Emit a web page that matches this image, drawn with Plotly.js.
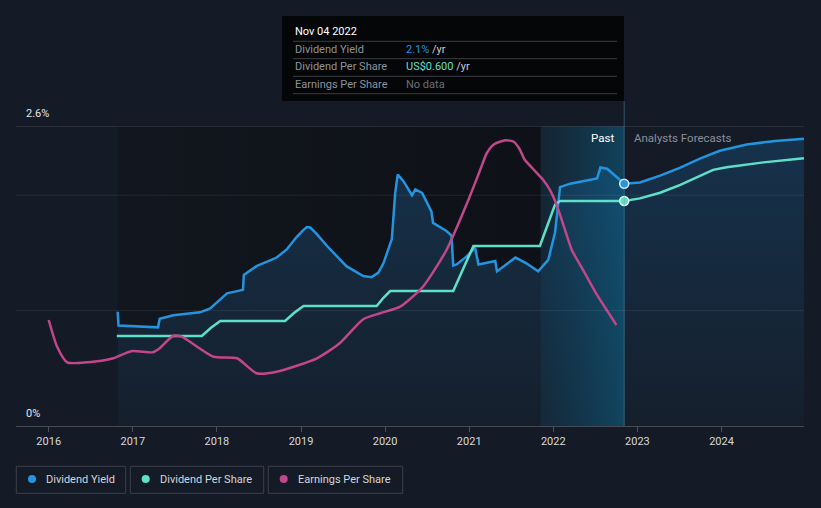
<!DOCTYPE html>
<html><head><meta charset="utf-8">
<script src="https://cdn.plot.ly/plotly-3.0.1.min.js"></script>
<style>html,body{margin:0;padding:0;background:#151b26;}#chart{width:821px;height:508px;}</style>
</head><body><div id="chart"></div>
<script>
// ---- data ----
const yearTicks = [2016, 2017, 2018, 2019, 2020, 2021, 2022, 2023, 2024];
const yearLabels = ["2016","2017","2018","2019","2020","2021","2022","2023","2024"];

// Dividend Yield (%), incl. analyst forecast after Nov 2022
const yieldX = [2016.82,2016.83,2017.30,2017.32,2017.48,2017.80,2017.92,2018.12,2018.31,2018.32,2018.47,2018.71,2018.83,2018.95,2019.03,2019.07,2019.11,2019.18,2019.31,2019.54,2019.74,2019.84,2019.92,2019.98,2020.08,2020.12,2020.15,2020.22,2020.32,2020.36,2020.44,2020.55,2020.57,2020.73,2020.79,2020.81,2020.85,2020.97,2021.07,2021.11,2021.31,2021.33,2021.55,2021.68,2021.82,2021.94,2022.02,2022.08,2022.20,2022.52,2022.56,2022.64,2022.75,2022.843,2023.03,2023.27,2023.51,2023.75,2023.98,2024.30,2024.64,2024.98];
const yieldY = [0.99,0.87,0.855,0.93,0.96,0.985,1.02,1.15,1.18,1.31,1.385,1.46,1.53,1.64,1.70,1.725,1.72,1.67,1.56,1.385,1.30,1.29,1.33,1.41,1.62,2.02,2.18,2.12,2.00,2.05,2.02,1.86,1.76,1.69,1.65,1.39,1.40,1.47,1.545,1.40,1.43,1.34,1.46,1.41,1.34,1.44,1.675,2.07,2.10,2.145,2.24,2.23,2.16,2.10,2.11,2.17,2.24,2.32,2.385,2.44,2.47,2.49];

// Dividend Per Share (US$)
const dpsX = [2016.81,2017.82,2017.93,2018.04,2018.81,2018.92,2019.03,2019.90,2019.98,2020.06,2020.81,2020.93,2021.05,2021.84,2021.94,2022.02,2022.08,2022.843,2023.03,2023.27,2023.51,2023.90,2024.06,2024.50,2024.98];
const dpsY = [0.24,0.24,0.262,0.28,0.28,0.302,0.32,0.32,0.342,0.36,0.36,0.42,0.48,0.48,0.54,0.59,0.60,0.60,0.607,0.622,0.643,0.683,0.69,0.703,0.714];

// Earnings Per Share (US$)
const epsX = [2016.00,2016.10,2016.22,2016.61,2016.77,2016.99,2017.24,2017.32,2017.48,2017.58,2017.96,2018.24,2018.47,2018.71,2019.19,2019.46,2019.74,2019.94,2020.18,2020.45,2020.73,2020.99,2021.13,2021.21,2021.30,2021.43,2021.53,2021.60,2021.66,2021.76,2021.88,2021.96,2022.04,2022.14,2022.22,2022.34,2022.52,2022.75];
const epsY = [1.413,1.057,0.849,0.867,0.903,1.0,0.983,1.036,1.204,1.191,0.924,0.903,0.703,0.724,0.903,1.103,1.423,1.503,1.591,1.857,2.347,3.013,3.413,3.64,3.76,3.81,3.79,3.69,3.55,3.427,3.28,3.147,2.947,2.613,2.347,2.107,1.747,1.347];

// highlighted point (Nov 04 2022)
const hoverX = [2022.843];
const hoverYield = [2.1];
const hoverDps = [0.6];

const dataStart = 2016.82, pastStart = 2021.85, today = 2022.843;

// ---- layout helpers (pixel -> paper) ----
const L=16, R=804, T=126, B=426;
const px = v => (v-L)/(R-L);
const py = v => (B-v)/(B-T);

const BLUE='#2394df', TEAL='#5ee0c8', PINK='#c2468a';

const traces = [
  {x:[dataStart,pastStart,pastStart,dataStart,dataStart], y:[0,0,2.6,2.6,0], type:'scatter', mode:'lines',
   fill:'toself', line:{width:0}, hoverinfo:'skip', showlegend:false,
   fillcolor:'#10141b',
   fillgradient:{type:'horizontal', colorscale:[[0,'#12161e'],[1,'#0e1117']]}},
  {x:yieldX, y:yieldY, type:'scatter', mode:'lines', fill:'tozeroy', line:{width:0}, hoverinfo:'skip', showlegend:false,
   fillcolor:'#152a40',
   fillgradient:{type:'vertical', colorscale:[[0,'#151f2c'],[1,'#16324c']]}},
  {x:[pastStart,today,today,pastStart,pastStart], y:[0,0,2.6,2.6,0], type:'scatter', mode:'lines',
   fill:'toself', line:{width:0}, hoverinfo:'skip', showlegend:false,
   fillcolor:'rgba(20,130,170,0.2)',
   fillgradient:{type:'horizontal', colorscale:[[0,'rgba(15,110,150,0.12)'],[1,'rgba(10,130,180,0.38)']]}},
  {x:yieldX, y:yieldY, type:'scatter', mode:'lines', line:{color:BLUE, width:2.5}, name:'Dividend Yield', showlegend:false},
  {x:dpsX, y:dpsY, yaxis:'y2', type:'scatter', mode:'lines', line:{color:TEAL, width:2.5}, name:'Dividend Per Share', showlegend:false},
  {x:epsX, y:epsY, yaxis:'y3', type:'scatter', mode:'lines', line:{color:PINK, width:2.5, shape:'spline', smoothing:0.6}, name:'Earnings Per Share', showlegend:false},
  {x:hoverX, y:hoverYield, type:'scatter', mode:'markers', marker:{size:9, color:BLUE, line:{color:'#d8ecf8', width:1.5}}, showlegend:false, hoverinfo:'skip'},
  {x:hoverX, y:hoverDps, yaxis:'y2', type:'scatter', mode:'markers', marker:{size:9, color:TEAL, line:{color:'#e6fbf6', width:1.5}}, showlegend:false, hoverinfo:'skip'}
];

const FONT = 'Roboto, "Open Sans", sans-serif';
const shapes = [
  {type:'line', xref:'paper', yref:'y', x0:0, x1:1, y0:1, y1:1, line:{color:'rgba(255,255,255,0.08)', width:1}, layer:'above'},
  {type:'line', xref:'paper', yref:'y', x0:0, x1:1, y0:2, y1:2, line:{color:'rgba(255,255,255,0.08)', width:1}, layer:'above'},
  {type:'line', xref:'paper', yref:'y', x0:0, x1:1, y0:2.6, y1:2.6, line:{color:'#3f444d', width:1.2}, layer:'above'},
  {type:'line', xref:'x', yref:'paper', x0:today, x1:today, y0:0, y1:py(101), line:{color:'rgba(90,150,185,0.45)', width:1}, layer:'above'},
  {type:'rect', xref:'paper', yref:'paper', x0:px(282), x1:px(624), y0:py(101), y1:py(16), fillcolor:'#050608', line:{width:0}, layer:'above'}
];
[41.3,58.7,76.3,93.7].forEach(yy=>shapes.push({type:'line', xref:'paper', yref:'paper', x0:px(293), x1:px(617), y0:py(yy), y1:py(yy), line:{color:'#3a3c40', width:1}, layer:'above'}));

const legend = [
  {x0:16.3, x1:125.7, cx:32, tx:44.3, label:'Dividend Yield', color:BLUE},
  {x0:130.3, x1:263.7, cx:145.7, tx:158, label:'Dividend Per Share', color:TEAL},
  {x0:268.3, x1:402.7, cx:283.7, tx:296.3, label:'Earnings Per Share', color:PINK}
];
const annotations = [];
legend.forEach(l=>{
  shapes.push({type:'rect', xref:'paper', yref:'paper', x0:px(l.x0), x1:px(l.x1), y0:py(493.3), y1:py(466.3), line:{color:'#3b404a', width:1}, fillcolor:'rgba(0,0,0,0)'});
  shapes.push({type:'circle', xref:'paper', yref:'paper', x0:px(l.cx-4), x1:px(l.cx+4), y0:py(483), y1:py(475), fillcolor:l.color, line:{width:0}});
  annotations.push({xref:'paper', yref:'paper', x:px(l.tx), y:py(479.5), xanchor:'left', yanchor:'middle', text:l.label, showarrow:false, font:{family:FONT, size:11, color:'#d3d6db'}});
});

annotations.push({xref:'paper', yref:'paper', x:px(24), y:py(114), xanchor:'left', yanchor:'middle', text:'2.6%', showarrow:false, font:{family:FONT, size:11, color:'#e4e6ea'}});
annotations.push({xref:'paper', yref:'paper', x:px(24), y:py(413), xanchor:'left', yanchor:'middle', text:'0%', showarrow:false, font:{family:FONT, size:11, color:'#e4e6ea'}});
annotations.push({xref:'paper', yref:'paper', x:px(616), y:py(138), xanchor:'right', yanchor:'middle', text:'Past', showarrow:false, font:{family:FONT, size:11.5, color:'#ffffff'}});
annotations.push({xref:'paper', yref:'paper', x:px(632), y:py(138), xanchor:'left', yanchor:'middle', text:'Analysts Forecasts', showarrow:false, font:{family:FONT, size:11.5, color:'#8b9099'}});
annotations.push({xref:'paper', yref:'paper', x:px(293), y:py(31), xanchor:'left', yanchor:'middle', text:'Nov 04 2022', showarrow:false, font:{family:FONT, size:11, color:'#ffffff'}});
const rows = [
  {y:49.5, label:'Dividend Yield', val:'<span style="color:#2394df">2.1%</span> /yr'},
  {y:67, label:'Dividend Per Share', val:'<span style="color:#5ee0c8">US$0.600</span> /yr'},
  {y:84.5, label:'Earnings Per Share', val:'<span style="color:#6b6f76">No data</span>'}
];
rows.forEach(r=>{
  annotations.push({xref:'paper', yref:'paper', x:px(293), y:py(r.y), xanchor:'left', yanchor:'middle', text:r.label, showarrow:false, font:{family:FONT, size:11, color:'#8d939b'}});
  annotations.push({xref:'paper', yref:'paper', x:px(404), y:py(r.y), xanchor:'left', yanchor:'middle', text:r.val, showarrow:false, font:{family:FONT, size:11, color:'#c9ccd1'}});
});

const layout = {
  width:821, height:508,
  margin:{l:L, r:821-R, t:T, b:508-B, pad:0},
  paper_bgcolor:'#151b26', plot_bgcolor:'#151b26',
  showlegend:false,
  hovermode:false,
  xaxis:{range:[2015.611, 2024.981], tickvals:yearTicks, ticktext:yearLabels, ticks:'outside', ticklen:5, tickcolor:'#4a4f58',
         showgrid:false, zeroline:false, showline:true, linecolor:'#454a53', linewidth:1.2,
         tickfont:{family:FONT, size:11, color:'#d6d9de'}, fixedrange:true},
  yaxis:{range:[0,2.6], showgrid:false, zeroline:false, showticklabels:false, ticks:'', fixedrange:true},
  yaxis2:{range:[0,0.8], overlaying:'y', visible:false, fixedrange:true},
  yaxis3:{range:[0,4], overlaying:'y', visible:false, fixedrange:true},
  shapes:shapes,
  annotations:annotations
};
Plotly.newPlot('chart', traces, layout, {staticPlot:true, displayModeBar:false});
</script>
</body></html>
